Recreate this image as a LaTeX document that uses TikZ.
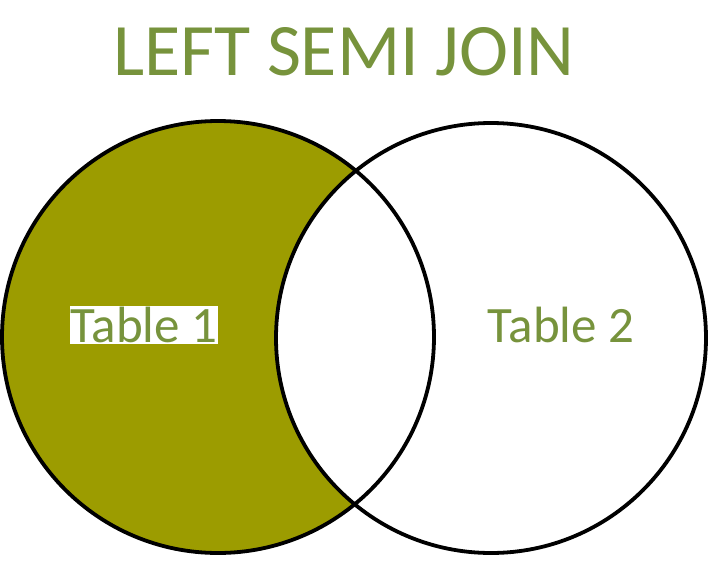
\documentclass[tikz,border=0pt]{standalone}
\usepackage{fontspec}
\setmainfont{Carlito}
\definecolor{olivefill}{HTML}{9C9C00}
\definecolor{txtgreen}{HTML}{77933C}
\begin{document}
\begin{tikzpicture}[x=1pt,y=-1pt,
  ring/.style={draw=black,line width=3.8pt},
  lbl/.style={text=txtgreen,font=\fontsize{51}{53}\selectfont,inner sep=1pt}]
\useasboundingbox (0,0) rectangle (710,576);
\fill[olivefill] (218,337) circle (216);
\fill[white] (491,338) circle (215);
\draw[ring] (218,337) circle (216);
\draw[ring] (491,338) circle (215);
\node[text=txtgreen,font=\fontsize{74}{76}\selectfont] (title) at (344,52) {LEFT SEMI JOIN};
\node[lbl,fill=white] (t1) at (144,325) {Table 1};
\node[lbl] (t2) at (561,325) {Table 2};
\end{tikzpicture}
\end{document}
